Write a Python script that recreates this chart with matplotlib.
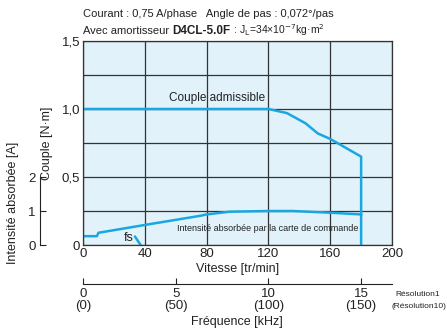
import matplotlib.pyplot as plt

plt.rcParams['font.family'] = ['Liberation Sans', 'DejaVu Sans']

# Couple admissible (torque) vs speed
speed_torque = [0, 120, 132, 144, 152, 160, 180, 180]
torque = [1.0, 1.0, 0.97, 0.895, 0.82, 0.78, 0.65, 0.0]

# Intensité absorbée (current) vs speed
speed_current = [0, 9, 10, 40, 76, 80, 95, 120, 136, 160, 180]
current = [0.26, 0.26, 0.36, 0.59, 0.86, 0.9, 0.98, 1.0, 1.0, 0.95, 0.9]

# fs marker
fs_speed = [33.7, 37.3]
fs_torque = [0.061, 0.0]

x_ticks = [0, 40, 80, 120, 160, 200]
y_ticks = [0, 0.5, 1.0, 1.5]
y_labels = ['0', '0,5', '1,0', '1,5']
freq_ticks = [0, 5, 10, 15]
freq_labels = ['0\n(0)', '5\n(50)', '10\n(100)', '15\n(150)']

line_col = '#19a7e2'
face_col = '#e1f2fb'
grid_col = '#333333'
txt_col = '#222222'

fig = plt.figure(figsize=(4.47, 3.32), dpi=100)
ax = fig.add_axes([0.1857, 0.262, 0.6913, 0.6145])
ax.set_facecolor(face_col)

ax.plot(speed_torque, torque, color=line_col, lw=1.8)
ax.plot(speed_current, [c * 0.25 for c in current], color=line_col, lw=1.8)
ax.plot(fs_speed, fs_torque, color=line_col, lw=1.8)

ax.set_xlim(0, 200)
ax.set_ylim(0, 1.5)
ax.set_xticks(x_ticks)
ax.set_yticks(y_ticks)
ax.set_yticklabels(y_labels)
ax.set_yticks([0.25, 0.75, 1.25], minor=True)
ax.grid(True, which='both', color=grid_col, lw=0.9)
ax.tick_params(which='both', length=0, labelsize=9.5, colors=txt_col, pad=2)
for s in ax.spines.values():
    s.set_color(grid_col)
    s.set_linewidth(0.9)
ax.set_xlabel('Vitesse [tr/min]', fontsize=9, color=txt_col, labelpad=2)
ax.set_ylabel('Couple [N·m]', fontsize=9, color=txt_col, labelpad=6)

ax.text(87, 1.08, 'Couple admissible', fontsize=8.5, color=txt_col, ha='center', va='center')
ax.text(119.5, 0.12, 'Intensité absorbée par la carte de commande', fontsize=6.5,
        color=txt_col, ha='center', va='center')
ax.text(29.5, 0.05, 'fs', fontsize=9, color=txt_col, ha='center', va='center')

# left axis for current
axi = fig.add_axes([0.0895, 0.262, 0.001, 0.2048])
axi.set_ylim(0, 2)
axi.set_yticks([0, 1, 2])
axi.set_xticks([])
axi.patch.set_visible(False)
for k in ['top', 'right', 'bottom']:
    axi.spines[k].set_visible(False)
axi.spines['left'].set_color(txt_col)
axi.tick_params(axis='y', direction='in', length=4, labelsize=9.5, colors=txt_col, pad=3)
fig.text(0.028, 0.389, 'Intensité absorbée [A]', rotation=90, fontsize=9,
         color=txt_col, ha='center', va='center')

# frequency axis
axf = fig.add_axes([0.1857, 0.1446, 0.6913, 0.001])
axf.set_xlim(0, 200 / 12)
axf.set_xticks(freq_ticks)
axf.set_xticklabels(freq_labels, linespacing=0.95)
axf.set_yticks([])
axf.patch.set_visible(False)
for k in ['top', 'right', 'left']:
    axf.spines[k].set_visible(False)
axf.spines['bottom'].set_color(txt_col)
axf.tick_params(axis='x', direction='in', length=4, labelsize=9.5, colors=txt_col, pad=3)
fig.text(0.53, 0.03, 'Fréquence [kHz]', fontsize=9, color=txt_col, ha='center', va='center')
fig.text(0.984, 0.112, 'Résolution1', fontsize=6, color=txt_col, ha='right', va='center')
fig.text(0.999, 0.076, '(Résolution10)', fontsize=6, color=txt_col, ha='right', va='center')

# header
fig.text(0.186, 0.958, 'Courant : 0,75 A/phase   Angle de pas : 0,072°/pas',
         fontsize=8, color=txt_col, ha='left', va='center')
parts = [('Avec amortisseur ', 8, 'normal'),
         ('D4CL-5.0F', 8.5, 'bold'),
         (r' : J$_{\rm L}$=34×10$^{-7}$kg·m$^{2}$', 7.5, 'normal')]
fig.canvas.draw()
r = fig.canvas.get_renderer()
xpos = 0.186
for s, fs, fw in parts:
    t = fig.text(xpos, 0.908, s, fontsize=fs, fontweight=fw, color=txt_col,
                 ha='left', va='center')
    bb = t.get_window_extent(renderer=r)
    xpos += bb.width / fig.bbox.width

fig.savefig('out.png', dpi=100)
